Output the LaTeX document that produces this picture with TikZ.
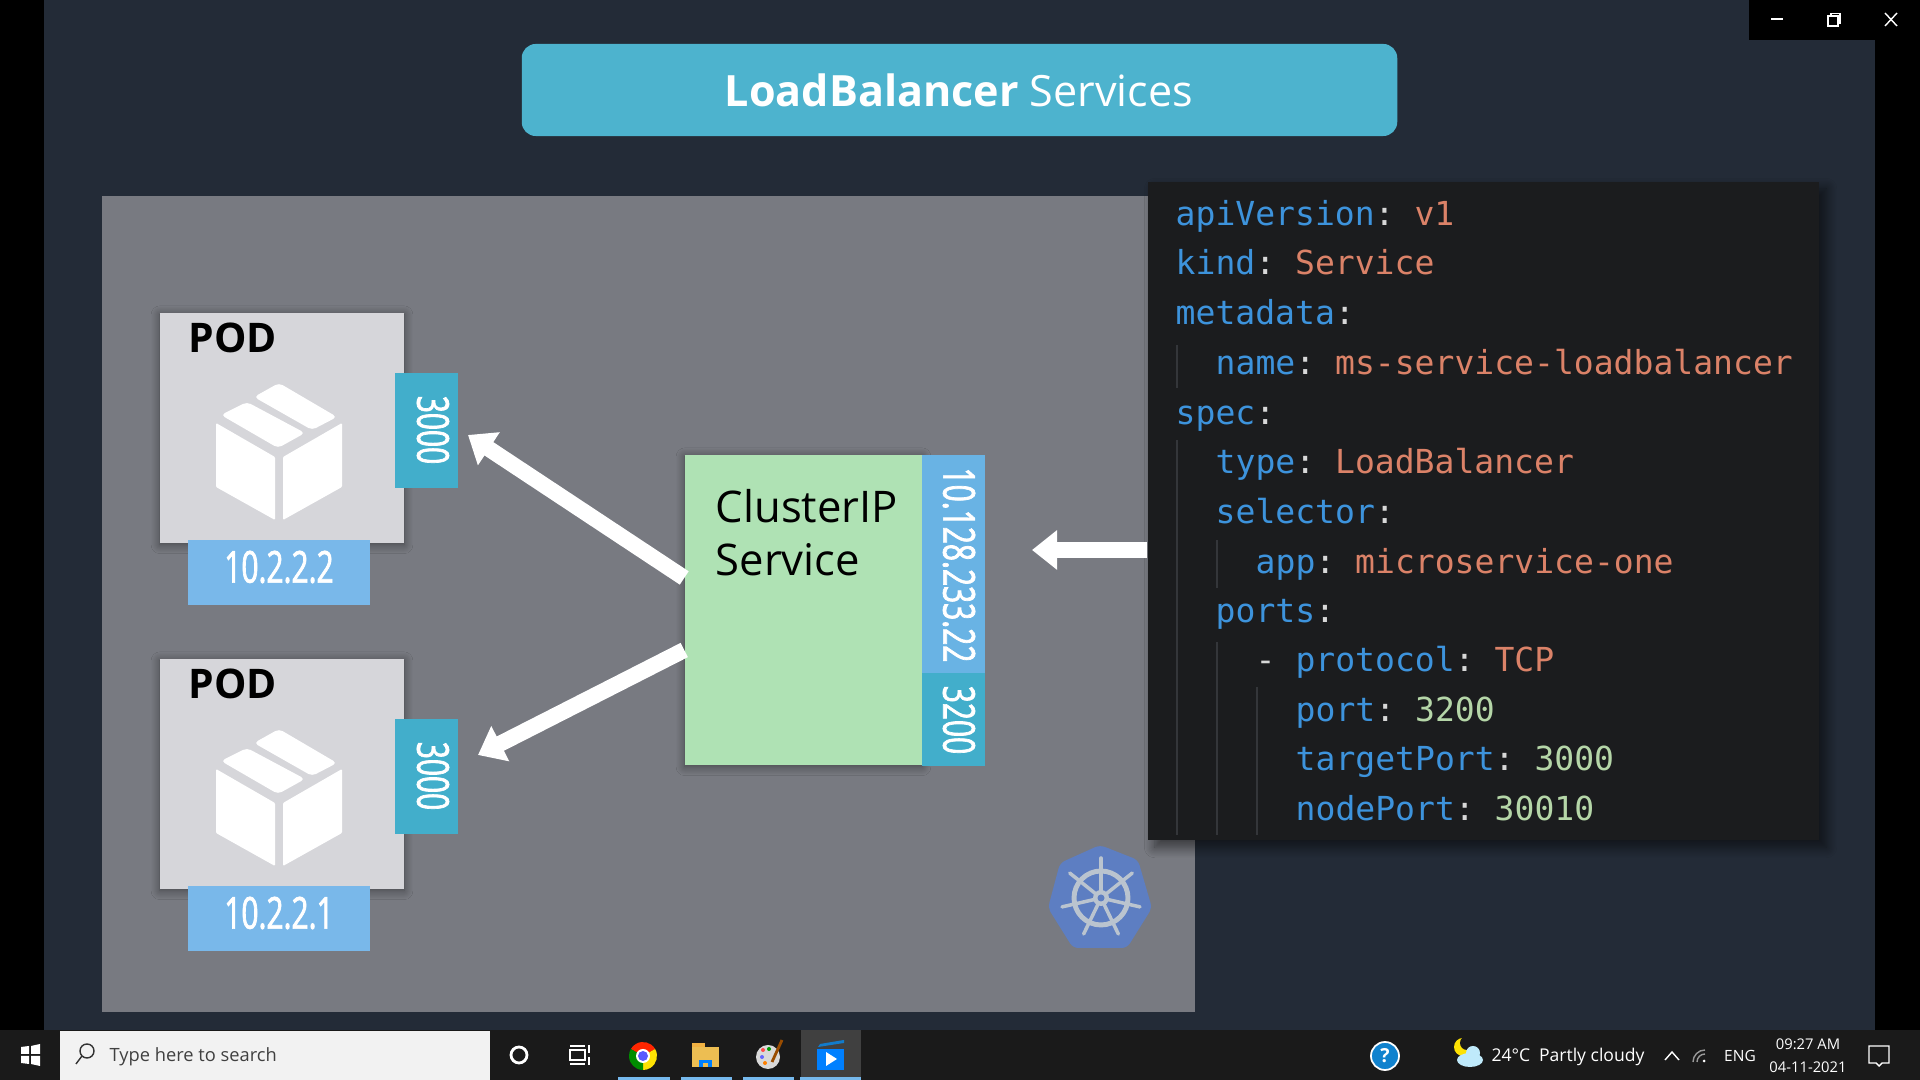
\documentclass[tikz,border=0pt]{standalone}
\usepackage{fontspec}
\setmainfont{Open Sans}
\setmonofont{DejaVu Sans Mono}
\newfontfamily\tagfont[FakeStretch=0.68,FakeBold=1.6]{Open Sans}
\usetikzlibrary{arrows.meta,shadows.blur}

\definecolor{slidebg}{HTML}{232B37}
\definecolor{panelgray}{HTML}{787A81}
\definecolor{titleteal}{HTML}{4DB3CE}
\definecolor{podgray}{HTML}{D6D6DA}
\definecolor{ipblue}{HTML}{79B8EA}
\definecolor{portteal}{HTML}{42AECB}
\definecolor{svcgreen}{HTML}{AFE2B4}
\definecolor{svcblue}{HTML}{69B3E4}
\definecolor{codebg}{HTML}{1B1C1E}
\definecolor{yamlkey}{HTML}{3D93DC}
\definecolor{yamlval}{HTML}{DB8268}
\definecolor{yamlnum}{HTML}{B5D6A8}
\definecolor{yamlpunct}{HTML}{D8D8D8}
\definecolor{guidegray}{HTML}{34363A}
\definecolor{kubeblue}{HTML}{5D7EC2}
\definecolor{kubewheel}{HTML}{BAC4CF}
\definecolor{taskbg}{HTML}{1A1A1A}
\definecolor{taskhl}{HTML}{404040}
\definecolor{taskline}{HTML}{76B9ED}
\definecolor{folderyellow}{HTML}{EDBE52}

\newcommand{\ykey}[1]{\textcolor{yamlkey}{#1}\textcolor{yamlpunct}{:}}
\newcommand{\yval}[1]{\textcolor{yamlval}{#1}}
\newcommand{\ynum}[1]{\textcolor{yamlnum}{#1}}

\tikzset{
    softshadow/.style={blur shadow={shadow blur steps=10, shadow xshift=0pt, shadow yshift=-0.5pt, shadow blur radius=2.5pt, shadow opacity=45}},
    podbox/.style={fill=podgray, minimum width=2.44cm, minimum height=2.30cm, inner sep=0, softshadow},
    iptag/.style={fill=ipblue, minimum width=1.82cm, minimum height=0.65cm, inner sep=0},
    porttag/.style={fill=portteal, minimum width=0.63cm, minimum height=1.15cm, inner sep=0},
    tagtext/.style={text=white, inner sep=0, font=\tagfont\fontsize{12.5}{14}\selectfont},
    boxlabel/.style={text=black, inner sep=0, font=\fontsize{12.4}{14}\selectfont},
    bigarrow/.style={white, line width=0.16cm, -{Triangle[length=0.25cm, width=0.38cm]}},
    yaml/.style={anchor=base west, inner sep=0, font=\ttfamily\fontsize{9.4}{11}\selectfont},
    guide/.style={guidegray, line width=0.5pt},
    traytext/.style={text=white, inner sep=0, font=\fontsize{5.2}{6}\selectfont},
    tasktick/.style={fill=taskline, minimum height=0.03cm, inner sep=0}
}

\begin{document}
\begin{tikzpicture}[x=0.01cm, y=-0.01cm]
    \useasboundingbox (0,0) rectangle (1920,1080);
    % Window and slide
    \fill[black] (0,0) rectangle (1920,1080);
    \fill[slidebg] (44,0) rectangle (1875,1030);
    \fill[black] (1749,0) rectangle (1920,40);
    \draw[white, line width=0.4pt] (1771,19) -- (1783,19);
    \draw[white, line width=0.4pt] (1828,16) rectangle (1838,26);
    \draw[white, line width=0.4pt] (1831,16) -- (1831,13.5) -- (1840,13.5) -- (1840,23) -- (1838,23);
    \draw[white, line width=0.4pt] (1885,13) -- (1897,26) (1897,13) -- (1885,26);

    % Title
    \node[fill=titleteal, rounded corners=0.14cm, minimum width=8.75cm, minimum height=0.92cm, inner sep=0] (titlebar) at (959.5,90) {};
    \node[text=white, inner sep=0, font=\fontsize{12.25}{14}\selectfont] (titletext) at (959,90) {\textbf{LoadBalancer} Services};

    % Gray panel
    \fill[panelgray] (102,196) rectangle (1195,1012);

    % Pods
    \foreach \podname/\podshift/\podip in {podone/0/10.2.2.2,podtwo/346/10.2.2.1} {
        \begin{scope}[shift={(0,\podshift)}]
            \node[podbox] (\podname) at (282,428) {};
            \node[iptag] (\podname ip) at (279,572.5) {};
            \node[tagtext] (\podname iptext) at (279,567) {\podip};
            \node[porttag] (\podname port) at (426.5,430.5) {};
            \node[tagtext, rotate=-90] (\podname porttext) at (433,430) {3000};
            \node[boxlabel, anchor=west, font=\bfseries\fontsize{11.6}{13}\selectfont] (\podname label) at (188,338) {POD};
            % Box icon
            \fill[white, rounded corners=0.3pt] (216,423) -- (275,457) -- (275,520) -- (216,487) -- cycle;
            \fill[white, rounded corners=0.3pt] (283,457) -- (342,423) -- (342,487) -- (283,520) -- cycle;
            \fill[white, rounded corners=1.2pt] (221,415) -- (247,402) -- (305,433) -- (278,448) -- cycle;
            \fill[white, rounded corners=1.2pt] (254,397) -- (279,383) -- (337,417) -- (312,430) -- cycle;
        \end{scope}
    }

    % Service
    \node[fill=svcgreen, minimum width=2.37cm, minimum height=3.10cm, inner sep=0, softshadow] (service) at (803.5,610) {};
    \fill[svcblue] (922,455) rectangle (985,673);
    \fill[portteal] (922,673) rectangle (985,766);
    \node[tagtext, rotate=-90] (serviceip) at (959,565) {10.128.233.22};
    \node[tagtext, rotate=-90] (serviceport) at (959,720) {3200};
    \node[boxlabel, anchor=base west] (servicelabel) at (715,523) {ClusterIP};
    \node[boxlabel, anchor=base west] (servicesub) at (715,576) {Service};

    % Code block
    \node[fill=codebg, minimum width=6.71cm, minimum height=6.58cm, inner sep=0, blur shadow={shadow blur steps=10, shadow xshift=2pt, shadow yshift=-2pt, shadow blur radius=3pt, shadow opacity=55}] (codeblock) at (1483.5,511) {};
    \draw[guide] (1177,345) -- (1177,388);
    \draw[guide] (1177,440) -- (1177,835);
    \draw[guide] (1217,540) -- (1217,588);
    \draw[guide] (1217,642) -- (1217,835);
    \draw[guide] (1257,687) -- (1257,835);
    \node[yaml] (lineapi) at (1175,226) {\ykey{apiVersion} \yval{v1}};
    \node[yaml] (linekind) at (1175,275) {\ykey{kind} \yval{Service}};
    \node[yaml] (linemeta) at (1175,325) {\ykey{metadata}};
    \node[yaml] (linename) at (1215,375) {\ykey{name} \yval{ms-service-loadbalancer}};
    \node[yaml] (linespec) at (1175,425) {\ykey{spec}};
    \node[yaml] (linetype) at (1215,474) {\ykey{type} \yval{LoadBalancer}};
    \node[yaml] (lineselector) at (1215,524) {\ykey{selector}};
    \node[yaml] (lineapp) at (1255,574) {\ykey{app} \yval{microservice-one}};
    \node[yaml] (lineports) at (1215,623) {\ykey{ports}};
    \node[yaml] (lineproto) at (1255,672) {\textcolor{yamlpunct}{-} \ykey{protocol} \yval{TCP}};
    \node[yaml] (lineport) at (1295,722) {\ykey{port} \ynum{3200}};
    \node[yaml] (linetarget) at (1295,771) {\ykey{targetPort} \ynum{3000}};
    \node[yaml] (linenode) at (1295,821) {\ykey{nodePort} \ynum{30010}};

    % Arrows
    \coordinate (tipone) at (468,435);
    \coordinate (tiptwo) at (478,755);
    \coordinate (tipsvc) at (1032,550);
    \draw[bigarrow] ([yshift=0.32cm]service.west) -- (tipone);
    \draw[bigarrow] ([yshift=-0.40cm]service.west) -- (tiptwo);
    \draw[bigarrow] (codeblock.west |- tipsvc) -- (tipsvc);

    % Kubernetes logo
    \fill[kubeblue, rounded corners=1.5pt] (1100,845) -- (1138,860) -- (1152,908) -- (1127,948) -- (1073,948) -- (1048,908) -- (1060,863) -- cycle;
    \draw[kubewheel, line width=1.4pt] (1101,898) circle (27);
    \foreach \spoke in {0,...,6} {
        \draw[kubewheel, line width=1pt, line cap=round] (1101,898) -- ++({-90+\spoke*360/7}:40);
    }
    \fill[kubewheel] (1101,898) circle (8);
    \fill[kubeblue] (1101,898) circle (3.5);

    % Taskbar
    \fill[taskbg] (0,1030) rectangle (1920,1080);
    \fill[white] (21,1047) -- (29,1046) -- (29,1054) -- (21,1054) -- cycle;
    \fill[white] (31,1046) -- (40,1044) -- (40,1054) -- (31,1054) -- cycle;
    \fill[white] (21,1056) -- (29,1056) -- (29,1064) -- (21,1063) -- cycle;
    \fill[white] (31,1056) -- (40,1056) -- (40,1066) -- (31,1064) -- cycle;
    \fill[white!95!black] (60,1031) rectangle (490,1080);
    \draw[black!80, line width=0.4pt] (87,1051) circle (7) (82,1056) -- (76,1064);
    \node[traytext, anchor=base west, text=black!75] (searchtext) at (109,1062) {Type here to search};
    \draw[white, line width=0.8pt] (519,1055) circle (8);
    \draw[white, line width=0.4pt] (570,1050) rectangle (585,1060) (570,1046) -- (585,1046) (570,1064) -- (585,1064) (589,1045) -- (589,1053) (589,1057) -- (589,1065);

    % Tray icons
    \fill[taskhl] (801,1030) rectangle (861,1080);
    \foreach \tickname/\tickx/\tickw in {tickchrome/644/0.52cm,tickfolder/706.5/0.51cm,tickpalette/768.5/0.51cm,tickplayer/830.5/0.61cm} {
        \node[tasktick, minimum width=\tickw] (\tickname) at (\tickx,1079) {};
    }
    % Chrome
    \fill[red!70!orange] (643,1056) -- ++(-30:14) arc[start angle=-30, delta angle=-120, radius=14] -- cycle;
    \fill[yellow!85!orange] (643,1056) -- ++(-30:14) arc[start angle=-30, delta angle=120, radius=14] -- cycle;
    \fill[green!55!black] (643,1056) -- ++(90:14) arc[start angle=90, delta angle=120, radius=14] -- cycle;
    \fill[white] (643,1056) circle (7);
    \fill[blue!65!white] (643,1056) circle (5);
    % Folder
    \fill[folderyellow!80!orange] (692,1043) rectangle (705,1050);
    \fill[folderyellow] (692,1047) rectangle (719,1067);
    \fill[blue!50!cyan] (699,1060) rectangle (712,1067);
    \fill[folderyellow] (703,1063) rectangle (708,1067);
    % Palette
    \fill[black!15] (768,1057) ellipse (12 and 12);
    \fill[red!70] (763,1050) circle (2);
    \fill[green!60!black] (769,1049) circle (2);
    \fill[blue!60] (762,1057) circle (2);
    \fill[orange] (765,1063) circle (2);
    \draw[orange!60!black, line width=0.8pt] (772,1062) -- (782,1040);
    % Player
    \fill[cyan!60!blue] (818,1047) -- (844,1043) -- (844,1040) -- (820,1044) -- cycle;
    \fill[blue!50!cyan] (817,1049) rectangle (844,1070);
    \fill[white] (826,1052) -- (837,1059) -- (826,1066) -- cycle;
    % Help and weather
    \node[circle, fill=cyan!65!blue, draw=white, line width=0.5pt, minimum size=0.28cm, inner sep=0, text=white, font=\bfseries\fontsize{5.5}{6}\selectfont] (helpicon) at (1385,1056) {?};
    \fill[yellow!85!orange] (1463,1047) circle (9);
    \fill[taskbg] (1467,1043) circle (7);
    \fill[cyan!25] (1470,1060) ellipse (13 and 7);
    \fill[cyan!25] (1473,1053) circle (7);
    \node[traytext, font=\fontsize{5}{6}\selectfont] (weathertext) at (1568,1057) {24°C\hspace{0.5em}Partly cloudy};
    \draw[white, line width=0.4pt] (1665,1060) -- (1672,1052) -- (1679,1060);
    \draw[white!60!black, line width=0.4pt] (1697,1062) arc[start angle=180, delta angle=90, radius=8];
    \draw[white!60!black, line width=0.4pt] (1693,1062) arc[start angle=180, delta angle=90, radius=12];
    \fill[white] (1704,1061) circle (1.5);
    \node[traytext, font=\fontsize{4.4}{5}\selectfont] (langtext) at (1740,1056) {ENG};
    \node[traytext, font=\fontsize{4.2}{5}\selectfont] (timetext) at (1808,1044) {09:27 AM};
    \node[traytext, font=\fontsize{4.2}{5}\selectfont] (datetext) at (1808,1067) {04-11-2021};
    \draw[white, line width=0.4pt] (1869,1046) -- (1889,1046) -- (1889,1063) -- (1882,1063) -- (1879,1066) -- (1876,1063) -- (1869,1063) -- cycle;
\end{tikzpicture}
\end{document}
